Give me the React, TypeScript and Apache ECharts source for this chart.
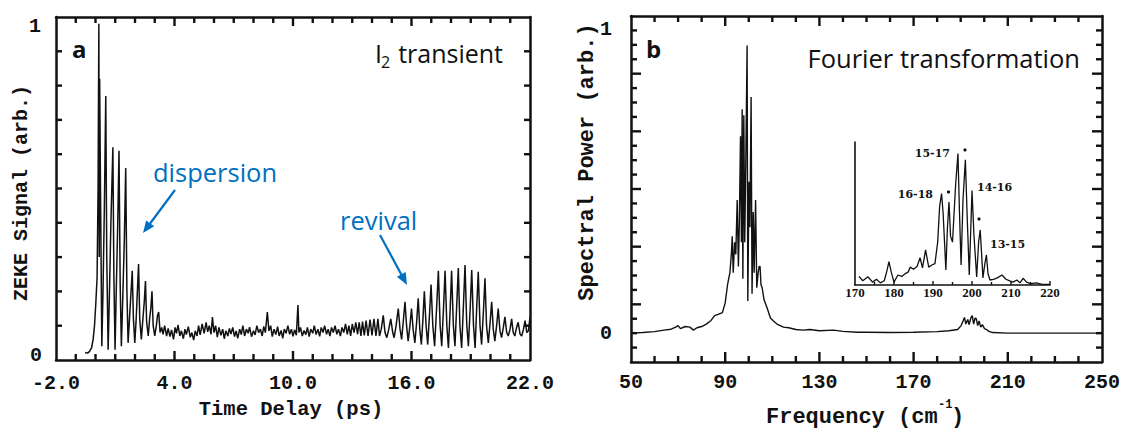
import React, { useEffect, useRef } from "react";
import * as echarts from "echarts";

// ---------------- Data ----------------
// Panel a: ZEKE signal vs time delay (ps)
const zekeRise: [number, number][] = [
  [-0.53, 0.022], [-0.4, 0.02], [-0.3, 0.025], [-0.2, 0.035], [-0.12, 0.06], [-0.05, 0.1],
  [0.02, 0.17], [0.08, 0.24], [0.13, 0.5], [0.17, 0.98], [0.19, 0.3], [0.21, 0.82],
  [0.26, 0.45], [0.32, 0.04], [0.38, 0.2], [0.45, 0.45], [0.52, 0.77], [0.57, 0.3],
  [0.64, 0.03], [0.7, 0.18], [0.78, 0.4], [0.88, 0.62], [0.93, 0.25], [0.99, 0.03],
  [1.05, 0.2], [1.12, 0.38], [1.19, 0.61], [1.25, 0.22], [1.31, 0.04], [1.38, 0.18],
  [1.46, 0.35], [1.53, 0.56], [1.59, 0.2], [1.65, 0.05], [1.72, 0.12], [1.8, 0.2],
  [1.86, 0.26], [1.92, 0.12], [1.99, 0.05], [2.06, 0.12], [2.12, 0.2], [2.18, 0.28],
  [2.24, 0.12], [2.32, 0.06], [2.4, 0.12], [2.47, 0.17], [2.53, 0.23], [2.59, 0.11],
  [2.67, 0.07], [2.74, 0.12], [2.8, 0.15], [2.86, 0.2], [2.92, 0.1], [3.0, 0.07],
  [3.08, 0.1], [3.14, 0.13], [3.2, 0.14], [3.27, 0.08],
];
const zekeBaseline: [number, number][] = [
  [3.35, 0.095], [3.42, 0.075], [3.5, 0.1], [3.6, 0.07], [3.68, 0.092], [3.77, 0.068],
  [3.85, 0.088], [3.95, 0.06], [4.03, 0.095], [4.1, 0.078], [4.18, 0.102], [4.27, 0.07],
  [4.35, 0.085], [4.45, 0.062], [4.53, 0.09], [4.6, 0.074], [4.7, 0.097], [4.8, 0.066],
  [4.88, 0.08], [4.97, 0.058], [5.05, 0.085], [5.14, 0.07], [5.22, 0.1], [5.3, 0.073],
  [5.4, 0.105], [5.5, 0.078], [5.6, 0.11], [5.68, 0.082], [5.76, 0.1], [5.85, 0.075],
  [5.92, 0.125], [6.0, 0.08], [6.08, 0.1], [6.17, 0.067], [6.25, 0.095], [6.35, 0.072],
  [6.44, 0.09], [6.52, 0.062], [6.6, 0.085], [6.7, 0.07], [6.78, 0.092], [6.86, 0.076],
  [6.95, 0.095], [7.04, 0.068], [7.12, 0.085], [7.2, 0.063], [7.3, 0.09], [7.38, 0.074],
  [7.46, 0.1], [7.55, 0.07], [7.64, 0.09], [7.73, 0.078], [7.8, 0.096], [7.9, 0.068],
  [8.0, 0.085], [8.08, 0.073], [8.17, 0.1], [8.26, 0.08], [8.35, 0.09], [8.44, 0.07],
  [8.52, 0.098], [8.6, 0.08], [8.7, 0.14], [8.78, 0.085], [8.87, 0.1], [8.95, 0.068],
  [9.04, 0.09], [9.13, 0.074], [9.22, 0.097], [9.3, 0.07], [9.4, 0.086], [9.48, 0.063],
  [9.56, 0.09], [9.65, 0.078], [9.74, 0.1], [9.83, 0.075], [9.92, 0.09], [10.0, 0.069],
  [10.08, 0.088], [10.17, 0.072], [10.25, 0.16], [10.3, 0.08], [10.38, 0.095], [10.47, 0.07],
  [10.56, 0.086], [10.65, 0.074], [10.73, 0.095], [10.82, 0.068], [10.9, 0.09], [11.0, 0.078],
  [11.08, 0.1], [11.17, 0.074], [11.26, 0.09], [11.35, 0.069], [11.43, 0.095], [11.52, 0.08],
  [11.6, 0.1], [11.7, 0.075], [11.78, 0.09], [11.87, 0.07], [11.95, 0.095], [12.04, 0.08],
  [12.13, 0.1], [12.22, 0.075], [12.3, 0.09], [12.4, 0.07], [12.48, 0.095], [12.57, 0.08],
  [12.66, 0.105], [12.75, 0.075], [12.83, 0.1], [12.92, 0.07], [13.0, 0.105], [13.09, 0.08],
  [13.18, 0.11], [13.27, 0.075], [13.35, 0.11], [13.44, 0.07], [13.52, 0.112], [13.61, 0.072],
  [13.7, 0.115], [13.8, 0.07], [13.9, 0.118], [14.0, 0.072], [14.1, 0.12], [14.2, 0.07],
  [14.3, 0.12], [14.38, 0.07],
];
const zekeRevival: [number, number][] = [
  [14.47, 0.09], [14.57, 0.13], [14.66, 0.08], [14.75, 0.065], [14.85, 0.09], [14.95, 0.12],
  [15.05, 0.08], [15.12, 0.065], [15.22, 0.1], [15.33, 0.15], [15.42, 0.09], [15.5, 0.06],
  [15.58, 0.11], [15.67, 0.17], [15.75, 0.1], [15.83, 0.055], [15.92, 0.1], [16.0, 0.15],
  [16.08, 0.09], [16.17, 0.05], [16.26, 0.11], [16.34, 0.18], [16.42, 0.09], [16.5, 0.045],
  [16.58, 0.12], [16.65, 0.2], [16.74, 0.1], [16.82, 0.045], [16.91, 0.13], [16.99, 0.22],
  [17.08, 0.1], [17.17, 0.04], [17.27, 0.15], [17.36, 0.26], [17.45, 0.1], [17.53, 0.04],
  [17.62, 0.15], [17.7, 0.26], [17.79, 0.1], [17.87, 0.035], [17.96, 0.15], [18.03, 0.26],
  [18.12, 0.1], [18.2, 0.04], [18.29, 0.16], [18.37, 0.268], [18.45, 0.1], [18.54, 0.035],
  [18.63, 0.16], [18.71, 0.277], [18.8, 0.1], [18.88, 0.04], [18.97, 0.15], [19.05, 0.262],
  [19.14, 0.1], [19.22, 0.035], [19.3, 0.15], [19.38, 0.257], [19.47, 0.1], [19.55, 0.045],
  [19.64, 0.14], [19.72, 0.238], [19.8, 0.1], [19.89, 0.05], [19.98, 0.11], [20.06, 0.17],
  [20.14, 0.09], [20.22, 0.055], [20.31, 0.1], [20.39, 0.15], [20.48, 0.085], [20.56, 0.065],
  [20.65, 0.095], [20.73, 0.126], [20.82, 0.08], [20.9, 0.07], [20.99, 0.09], [21.07, 0.12],
  [21.15, 0.08], [21.23, 0.07], [21.32, 0.095], [21.4, 0.11], [21.5, 0.075], [21.58, 0.07],
  [21.67, 0.09], [21.75, 0.115], [21.84, 0.08], [21.92, 0.085], [22.0, 0.125],
];

// Panel b: spectral power vs frequency (cm^-1)
const spectrum: [number, number][] = [
  [50, 0.0], [55, 0.002], [60, 0.005], [64, 0.01], [67, 0.013], [69, 0.02], [70, 0.025],
  [71, 0.015], [73, 0.022], [75, 0.02], [76.5, 0.01], [78, 0.018], [80, 0.022], [82, 0.03],
  [84, 0.042], [85.5, 0.058], [87, 0.062], [88.8, 0.068], [90, 0.1], [91, 0.16], [92, 0.2],
  [92.6, 0.26], [93, 0.32], [93.4, 0.2], [94, 0.3], [94.5, 0.26], [95.1, 0.44], [95.6, 0.22],
  [96, 0.36], [96.5, 0.65], [96.9, 0.3], [97.2, 0.74], [97.5, 0.18], [97.9, 0.72], [98.3, 0.3],
  [98.8, 0.6], [99.3, 0.95], [99.6, 0.106], [100.1, 0.5], [100.5, 0.35], [101.0, 0.78],
  [101.4, 0.13], [101.9, 0.4], [102.3, 0.2], [102.9, 0.44], [103.4, 0.15], [104.0, 0.2],
  [104.4, 0.22], [104.8, 0.22], [105.2, 0.16], [105.7, 0.15], [106.5, 0.11], [107.8, 0.083],
  [109.2, 0.05], [110.5, 0.04], [112, 0.03], [114.7, 0.02], [117, 0.018], [120, 0.012],
  [123, 0.01], [126, 0.012], [130, 0.008], [136, 0.01], [140, 0.006], [146, 0.003],
  [150, 0.003], [160, 0.002], [170, 0.003], [180, 0.005], [185, 0.008], [188.7, 0.012],
  [190.2, 0.025], [191.0, 0.04], [191.6, 0.052], [192.2, 0.03], [193, 0.045], [193.6, 0.028],
  [194.3, 0.05], [194.9, 0.058], [195.5, 0.03], [196.1, 0.05], [196.6, 0.048], [197.2, 0.025],
  [197.8, 0.04], [198.5, 0.02], [199.2, 0.028], [200.1, 0.015], [201, 0.012], [202, 0.006],
  [203.5, 0.002], [210, 0.0], [250, 0.0],
];

// Inset: zoom on the 170–220 cm^-1 region
const insetSpectrum: [number, number][] = [
  [171, 0.06], [172, 0.03], [173.3, 0.058], [174.5, 0.02], [175.5, 0.04], [176.5, 0.015],
  [177.5, 0.03], [178.2, 0.1], [178.7, 0.163], [179.3, 0.09], [180, 0.02], [181, 0.07],
  [182, 0.06], [182.9, 0.08], [183.6, 0.09], [184.2, 0.125], [185, 0.11], [185.9, 0.13],
  [186.7, 0.19], [187.3, 0.12], [188.1, 0.245], [188.9, 0.125], [189.7, 0.14], [190.5, 0.15],
  [191.2, 0.3], [191.7, 0.55], [192.2, 0.64], [192.6, 0.5], [193.3, 0.105], [193.7, 0.4],
  [194.1, 0.58], [194.5, 0.34], [195.0, 0.3], [195.4, 0.5], [195.8, 0.7], [196.4, 0.92],
  [196.8, 0.5], [197.2, 0.14], [197.7, 0.6], [198.3, 0.875], [198.8, 0.45], [199.3, 0.07],
  [199.7, 0.4], [200.0, 0.66], [200.5, 0.35], [201.2, 0.056], [201.7, 0.3], [202.1, 0.385],
  [202.5, 0.2], [202.8, 0.05], [203.3, 0.15], [203.7, 0.21], [204.1, 0.08], [204.6, 0.035],
  [205.5, 0.04], [206.5, 0.05], [207.7, 0.07], [208.7, 0.04], [209.5, 0.03], [210.5, 0.02],
  [211.5, 0.035], [212.3, 0.015], [213.1, 0.047], [214, 0.02], [215, 0.01], [216.5, 0.015],
  [218, 0.005], [220, 0.005],
];

// Tick labels
const delayTickLabels = [-2, 4, 10, 16, 22];
const freqTickLabels = [50, 90, 130, 170, 210, 250];
const insetTickLabels = [170, 180, 190, 200, 210, 220];
const signalTickLabels = ["0", "1"];

// ---------------- Layout & styling ----------------
const INK = "#111111";
const BLUE = "#0070C0";
const MONO = '"Liberation Mono", "DejaVu Sans Mono", monospace';
const SANS = '"Open Sans", "Lato", sans-serif';

const gridA = { left: 56, top: 17, width: 474, height: 343 };
const gridB = { left: 631, top: 16, width: 471, height: 346 };
const gridI = { left: 855, top: 142, width: 195, height: 143 };

// panel b y range: 21 tick steps between 0 and 1, majors every 4 steps from -2
const bMin = -2 / 21;
const bMax = 22 / 21;
const bMajor = 4 / 21;

const tickFont = { fontFamily: MONO, fontSize: 20, fontWeight: "bold", color: INK };

function frameAxis(
  gridIndex: number, position: string, min: number, max: number, interval: number,
  label: any = { show: false },
) {
  return {
    type: "value",
    gridIndex, position, min, max, interval,
    axisLine: { show: true, onZero: false, lineStyle: { color: INK, width: 2.5 } },
    axisTick: { show: false },
    minorTick: { show: false },
    axisLabel: label,
    splitLine: { show: false },
    minorSplitLine: { show: false },
  };
}

function arrow(x1: number, y1: number, x2: number, y2: number, color: string) {
  const dx = x2 - x1, dy = y2 - y1;
  const L = Math.hypot(dx, dy);
  const ux = dx / L, uy = dy / L;
  const hl = 12, hw = 5;
  const bx = x2 - ux * hl, by = y2 - uy * hl;
  const px = -uy, py = ux;
  return [
    { type: "line", shape: { x1, y1, x2: bx + ux * 2, y2: by + uy * 2 }, style: { stroke: color, lineWidth: 2.2 } },
    {
      type: "polygon",
      shape: { points: [[x2, y2], [bx + px * hw, by + py * hw], [bx - px * hw, by - py * hw]] },
      style: { fill: color },
    },
  ];
}

function txt(x: number, y: number, text: string, font: string, fill: string, align = "left", vAlign = "middle", rotation = 0) {
  return { type: "text", x, y, rotation, style: { text, font, fill, align, verticalAlign: vAlign } };
}

// Inward frame tick marks drawn as small filled rectangles on the grids' axis geometry.
const TW = 2.4;
function vTick(x: number, yEdge: number, len: number, dir: number, w = TW) {
  const y = dir > 0 ? yEdge : yEdge - len;
  return { type: "rect", z: 100, shape: { x: x - w / 2, y, width: w, height: len }, style: { fill: INK } };
}
function hTick(xEdge: number, y: number, len: number, dir: number, w = TW) {
  const x = dir > 0 ? xEdge : xEdge - len;
  return { type: "rect", z: 100, shape: { x, y: y - w / 2, width: len, height: w }, style: { fill: INK } };
}
function frameTicks(): any[] {
  const out: any[] = [];
  // panel a
  {
    const { left, top, width, height } = gridA;
    const xl = left, xr = left + width, yt = top, yb = top + height;
    for (let k = 1; k < 24; k++) {
      const x = xl + (k / 24) * width;
      const len = k % 6 === 0 ? 9 : 6;
      out.push(vTick(x, yb, len, -1), vTick(x, yt, len, 1));
    }
    for (let k = 1; k < 10; k++) {
      const y = yb - (k / 10) * height;
      out.push(hTick(xl, y, 6, 1), hTick(xr, y, 6, -1));
    }
  }
  // panel b
  {
    const { left, top, width, height } = gridB;
    const xl = left, xr = left + width, yt = top, yb = top + height;
    for (let k = 1; k < 20; k++) {
      const x = xl + (k / 20) * width;
      const len = k % 4 === 0 ? 10 : 6;
      out.push(vTick(x, yb, len, -1), vTick(x, yt, len, 1));
    }
    for (let k = 1; k < 24; k++) {
      const y = yb - (k / 24) * height;
      const len = k % 4 === 0 ? 10 : 6;
      out.push(hTick(xl, y, len, 1), hTick(xr, y, len, -1));
    }
  }
  // inset
  {
    const { left, top, width, height } = gridI;
    const yb = top + height;
    for (let k = 1; k <= 10; k++) {
      const x = left + (k / 10) * width;
      out.push(vTick(x, yb, k % 2 === 0 ? 4 : 3, -1, 1.4));
    }
  }
  return out;
}

const labelGraphic: any[] = [
  // y tick labels "0" / "1"
  txt(42, 355, signalTickLabels[0], `bold 20px ${MONO}`, INK, "right"),
  txt(41, 26, signalTickLabels[1], `bold 20px ${MONO}`, INK, "right"),
  txt(612, 333, signalTickLabels[0], `bold 20px ${MONO}`, INK, "right"),
  txt(612, 29, signalTickLabels[1], `bold 20px ${MONO}`, INK, "right"),
  // panel labels
  txt(72, 48, "a", `bold 24px ${SANS}`, INK),
  txt(646, 48, "b", `bold 24px ${SANS}`, INK),
  // panel a title: I2 transient
  txt(375, 53, "I", `25px ${SANS}`, INK),
  txt(381, 62, "2", `16px ${SANS}`, INK),
  txt(503, 53, "transient", `25px ${SANS}`, INK, "right"),
  // panel b title
  txt(1080, 58, "Fourier transformation", `25.5px ${SANS}`, INK, "right"),
  // annotations
  txt(153, 172, "dispersion", `25.5px ${SANS}`, BLUE),
  txt(340, 220, "revival", `25.5px ${SANS}`, BLUE),
  ...arrow(175, 190, 143, 233, BLUE),
  ...arrow(380, 235, 407, 285, BLUE),
  // inset labels
  txt(950, 153, "15-17", `bold 11px "DejaVu Serif", serif`, INK, "right"),
  txt(933, 194, "16-18", `bold 11px "DejaVu Serif", serif`, INK, "right"),
  txt(977, 187, "14-16", `bold 11px "DejaVu Serif", serif`, INK),
  txt(990, 244, "13-15", `bold 11px "DejaVu Serif", serif`, INK),
  { type: "circle", shape: { cx: 965, cy: 150, r: 1.6 }, style: { fill: INK } },
  { type: "circle", shape: { cx: 948.5, cy: 192, r: 1.6 }, style: { fill: INK } },
  { type: "circle", shape: { cx: 979, cy: 219, r: 1.6 }, style: { fill: INK } },
  // axis names
  txt(21, 193, "ZEKE Signal (arb.)", `bold 20px ${MONO}`, INK, "center", "middle", Math.PI / 2),
  txt(587, 162, "Spectral Power (arb.)", `bold 22px ${MONO}`, INK, "center", "middle", Math.PI / 2),
  txt(291, 409, "Time Delay (ps)", `bold 20.5px ${MONO}`, INK, "center"),
  txt(766, 417, "Frequency (cm", `bold 22px ${MONO}`, INK),
  txt(938, 405, "-1", `bold 12px ${MONO}`, INK),
  txt(951, 417, ")", `bold 22px ${MONO}`, INK),
];

const insetLabelFont = {
  fontFamily: '"Liberation Serif", serif', fontWeight: "bold", fontSize: 13, color: INK,
};

const option: any = {
  animation: false,
  grid: [gridA, gridB, gridI],
  xAxis: [
    frameAxis(0, "bottom", delayTickLabels[0], delayTickLabels[delayTickLabels.length - 1], 6, {
      show: true, margin: 13, formatter: (v: number) => v.toFixed(1), ...tickFont,
    }),
    frameAxis(0, "top", delayTickLabels[0], delayTickLabels[delayTickLabels.length - 1], 6),
    frameAxis(1, "bottom", freqTickLabels[0], freqTickLabels[freqTickLabels.length - 1], 40, {
      show: true, margin: 10, formatter: (v: number) => String(v), ...tickFont,
    }),
    frameAxis(1, "top", freqTickLabels[0], freqTickLabels[freqTickLabels.length - 1], 40),
    {
      type: "value", gridIndex: 2, position: "bottom",
      min: insetTickLabels[0], max: insetTickLabels[insetTickLabels.length - 1], interval: 10,
      axisLine: { show: true, onZero: false, lineStyle: { color: INK, width: 1.6 } },
      axisTick: { show: false },
      axisLabel: { show: true, margin: 1, ...insetLabelFont },
      splitLine: { show: false },
    },
  ],
  yAxis: [
    frameAxis(0, "left", 0, 1, 0.1),
    frameAxis(0, "right", 0, 1, 0.1),
    frameAxis(1, "left", bMin, bMax, bMajor),
    frameAxis(1, "right", bMin, bMax, bMajor),
    {
      type: "value", gridIndex: 2, position: "left", min: 0, max: 1,
      axisLine: { show: true, onZero: false, lineStyle: { color: INK, width: 1.6 } },
      axisTick: { show: false }, axisLabel: { show: false }, splitLine: { show: false },
    },
  ],
  series: [
    {
      type: "line", xAxisIndex: 0, yAxisIndex: 0, showSymbol: false, symbol: "none", silent: true,
      data: [...zekeRise, ...zekeBaseline, ...zekeRevival],
      lineStyle: { color: INK, width: 1.5 },
    },
    {
      type: "line", xAxisIndex: 2, yAxisIndex: 2, showSymbol: false, symbol: "none", silent: true,
      data: spectrum, lineStyle: { color: INK, width: 1.4 },
    },
    {
      type: "line", xAxisIndex: 4, yAxisIndex: 4, showSymbol: false, symbol: "none", silent: true,
      data: insetSpectrum, lineStyle: { color: INK, width: 1.3 },
    },
  ],
  graphic: [...labelGraphic, ...frameTicks()],
};

export default function App() {
  const ref = useRef<HTMLDivElement>(null);
  useEffect(() => {
    if (!ref.current) return;
    const chart = echarts.init(ref.current, null, { renderer: "svg" });
    chart.setOption(option);
    return () => chart.dispose();
  }, []);
  return (
    <div
      ref={ref}
      style={{ position: "fixed", left: 0, top: 0, width: 1128, height: 432, background: "#fff" }}
    />
  );
}
